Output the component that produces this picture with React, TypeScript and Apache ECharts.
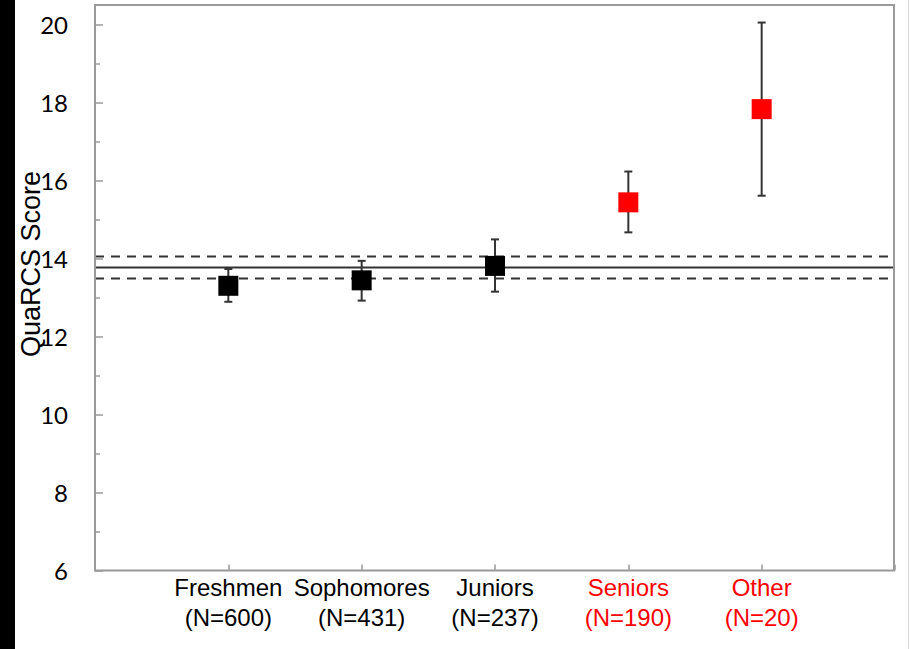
import React, { useEffect, useRef } from "react";
import * as echarts from "echarts";

const categories = ["Freshmen", "Sophomores", "Juniors", "Seniors", "Other"];
const countLabels = ["(N=600)", "(N=431)", "(N=237)", "(N=190)", "(N=20)"];
const groupPositions = [1, 2, 3, 4, 5];
const meanScores = [13.3, 13.44, 13.81, 15.44, 17.83];
const lowerBounds = [12.89, 12.92, 13.15, 14.67, 15.61];
const upperBounds = [13.73, 13.94, 14.49, 16.23, 20.05];
const highlighted = [false, false, false, true, true];
const overallMean = 13.77;
const overallLower = 13.49;
const overallUpper = 14.05;
const xRange = [0, 6];
const yAxisTitle = "QuaRCS Score";

export default function App() {
  const ref = useRef<HTMLDivElement>(null);
  useEffect(() => {
    if (!ref.current) return;
    const chart = echarts.init(ref.current, null, { renderer: "svg" });
    const lineColor = "#333333";
    const axisGray = "#9a9a9a";
    const font = "Liberation Sans, Arial, sans-serif";
    const option = {
      animation: false,
      backgroundColor: "#ffffff",
      grid: {
        left: 95,
        right: 15,
        top: 24.5,
        bottom: 78.5,
        show: false,
        containLabel: false,
        outerBoundsMode: "none",
      },
      xAxis: {
        type: "value",
        min: xRange[0],
        max: xRange[1],
        interval: 1,
        axisLine: { show: false },
        splitLine: { show: false },
        axisTick: { show: true, inside: true, length: 6, lineStyle: { color: axisGray, width: 1.5 } },
        axisLabel: {
          margin: 2,
          lineHeight: 30,
          fontFamily: font,
          fontSize: 24,
          showMinLabel: true,
          showMaxLabel: true,
          formatter: (v: number) => {
            const i = groupPositions.indexOf(v);
            if (i < 0) return "";
            const s = highlighted[i] ? "r" : "k";
            return `{${s}|${categories[i]}}\n{${s}|${countLabels[i]}}`;
          },
          rich: {
            k: { color: "#000000", fontSize: 24, lineHeight: 30, fontFamily: font },
            r: { color: "#ff0000", fontSize: 24, lineHeight: 30, fontFamily: font },
          },
        },
      },
      yAxis: {
        type: "value",
        min: 6,
        max: 20,
        interval: 2,
        axisLine: { show: false },
        splitLine: { show: false },
        axisTick: { show: true, inside: true, length: 8, lineStyle: { color: axisGray, width: 1.5 } },
        minorTick: { show: true, splitNumber: 2, length: 5, lineStyle: { color: axisGray, width: 1.5 } },
        axisLabel: {
          margin: 27,
          fontFamily: "Lato, Open Sans, sans-serif",
          fontSize: 24,
          color: "#000",
        },
      },
      graphic: [
        { type: "rect", shape: { x: 0, y: 0, width: 15, height: 649 }, style: { fill: "#000" }, silent: true },
        { type: "line", shape: { x1: 908.5, y1: 0, x2: 908.5, y2: 649 }, style: { stroke: "#d8d8d8", lineWidth: 1 }, silent: true },
        {
          type: "rect",
          shape: { x: 95, y: 5, width: 799, height: 565.5 },
          style: { fill: "none", stroke: axisGray, lineWidth: 2 },
          silent: true,
          z: 100,
        },
        {
          type: "text",
          x: 31,
          y: 264,
          rotation: Math.PI / 2,
          style: {
            text: yAxisTitle,
            fontFamily: font,
            fontSize: 27,
            fill: "#000",
            textAlign: "center",
            textVerticalAlign: "middle",
          },
          silent: true,
        },
      ],
      series: [
        {
          type: "line",
          data: [[xRange[0], overallMean], [xRange[1], overallMean]],
          symbol: "none",
          lineStyle: { color: lineColor, width: 2 },
          silent: true,
          z: 1,
        },
        {
          type: "line",
          data: [[xRange[0], overallUpper], [xRange[1], overallUpper]],
          symbol: "none",
          lineStyle: { color: lineColor, width: 2, type: [9, 7] },
          silent: true,
          z: 1,
        },
        {
          type: "line",
          data: [[xRange[0], overallLower], [xRange[1], overallLower]],
          symbol: "none",
          lineStyle: { color: lineColor, width: 2, type: [9, 7] },
          silent: true,
          z: 1,
        },
        {
          type: "custom",
          z: 2,
          clip: false,
          data: groupPositions.map((x, i) => [x, lowerBounds[i], upperBounds[i]]),
          renderItem: (params: any, api: any) => {
            const x = api.value(0);
            const lo = api.coord([x, api.value(1)]);
            const hi = api.coord([x, api.value(2)]);
            const cap = 4;
            const style = { stroke: lineColor, lineWidth: 2 };
            return {
              type: "group",
              children: [
                { type: "line", shape: { x1: lo[0], y1: lo[1], x2: hi[0], y2: hi[1] }, style },
                { type: "line", shape: { x1: lo[0] - cap, y1: lo[1], x2: lo[0] + cap, y2: lo[1] }, style },
                { type: "line", shape: { x1: hi[0] - cap, y1: hi[1], x2: hi[0] + cap, y2: hi[1] }, style },
              ],
            };
          },
        },
        {
          type: "scatter",
          z: 3,
          symbol: "rect",
          symbolSize: 20,
          itemStyle: { opacity: 1 },
          data: groupPositions.map((x, i) => ({
            value: [x, meanScores[i]],
            itemStyle: { color: highlighted[i] ? "#ff0000" : "#000000", opacity: 1 },
          })),
        },
      ],
    };
    chart.setOption(option as any);
    return () => chart.dispose();
  }, []);
  return (
    <div
      ref={ref}
      style={{ position: "fixed", left: 0, top: 0, width: 910, height: 649, background: "#fff" }}
    />
  );
}
